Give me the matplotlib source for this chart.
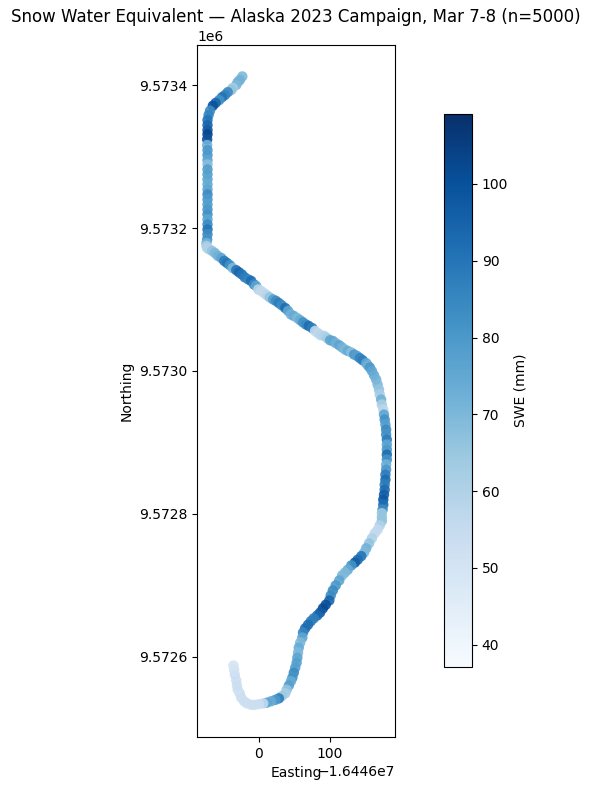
import matplotlib
matplotlib.use("Agg")
from matplotlib import pyplot as plt
from matplotlib.cm import ScalarMappable
from matplotlib.colors import Normalize
import numpy as np

EASTING_BASE = -16446000
NORTHING_BASE = 9572000
W, H = 592, 789

# north end of the track to south end
easting = [-23.5, -27, -30, -32, -37, -39, -44, -48, -52, -56, -61, -65, -69, -71, -72.5, -72.5, -72.5, -72.5, -73, -73,
           -72.5, -72.5, -72.5, -72.5, -72.5, -72.5, -72.5, -72.5, -72.5, -72.5, -72.5, -72.5, -72.5, -72.5, -72.5, -72.5, -72.5, -72.5, -73, -74,
           -74, -73, -70, -66, -62, -58, -53, -49, -45, -41, -37, -32, -28, -24, -20, -15, -11, -7, -4, -1,
           3, 7, 11, 15, 20, 24, 28, 32, 37, 41, 45, 49, 54, 58, 62, 66, 70, 75, 79, 83,
           87, 92, 96, 100, 104, 108, 113, 117, 121, 125, 130, 134, 138, 142, 146, 151, 153, 156, 159, 162,
           165, 167, 169, 170, 172, 173, 175, 176, 177, 178, 179, 179, 180, 180, 180, 180, 180, 179, 179, 178,
           178, 177, 177, 176, 175, 175, 174, 173, 173, 173, 170, 167, 163, 159, 155, 151, 148, 144, 139, 135,
           130, 125, 121, 117, 113, 108, 104, 101, 99, 94, 90, 86, 82, 77, 73, 69, 65, 62, 61, 58,
           56, 55, 54, 53, 51, 49, 47, 45, 42, 39, 37, 32, 28, 23, 17, 11, 6, 0, -6, -11,
           -17, -21, -25, -27, -30, -31, -32, -34, -35, -36]
northing = [1412, 1407, 1404, 1400, 1396, 1393, 1390, 1386, 1383, 1379, 1375, 1371, 1364, 1358, 1351, 1344, 1337, 1331, 1324, 1316,
            1309, 1302, 1295, 1289, 1282, 1275, 1268, 1261, 1254, 1247, 1240, 1233, 1226, 1219, 1212, 1205, 1198, 1191, 1184, 1179,
            1175, 1172, 1170, 1168, 1165, 1161, 1158, 1154, 1151, 1148, 1144, 1141, 1138, 1135, 1131, 1128, 1126, 1121, 1119, 1114,
            1112, 1109, 1106, 1103, 1100, 1098, 1095, 1092, 1088, 1084, 1079, 1077, 1074, 1071, 1068, 1065, 1063, 1060, 1056, 1053,
            1050, 1049, 1046, 1043, 1042, 1039, 1036, 1033, 1030, 1028, 1026, 1023, 1021, 1018, 1015, 1011, 1008, 1005, 1000, 994,
            988, 981, 974, 967, 960, 953, 946, 939, 932, 925, 918, 911, 904, 897, 890, 883, 876, 869, 862, 855,
            848, 841, 834, 827, 820, 813, 806, 801, 795, 790, 784, 778, 773, 766, 759, 752, 746, 741, 736, 732,
            728, 722, 718, 714, 707, 700, 693, 686, 679, 673, 668, 662, 658, 654, 650, 645, 640, 634, 627, 620,
            613, 606, 599, 592, 585, 578, 571, 566, 560, 554, 549, 545, 542, 540, 538, 536, 535, 534, 533, 533,
            535, 538, 543, 549, 554, 560, 567, 575, 582, 588]
swe = [70, 72, 72, 70, 62, 66, 84, 86, 90, 82, 94, 100, 84, 86, 90, 94, 97, 104, 100, 72,
       80, 80, 76, 68, 78, 78, 76, 74, 76, 84, 80, 78, 80, 82, 76, 84, 90, 84, 82, 72,
       62, 60, 60, 66, 70, 72, 76, 88, 90, 82, 70, 90, 94, 90, 88, 86, 92, 84, 76, 58,
       56, 56, 58, 66, 78, 84, 88, 84, 92, 76, 72, 74, 70, 74, 82, 84, 92, 88, 56, 57,
       58, 60, 62, 76, 76, 72, 76, 72, 70, 74, 68, 80, 78, 86, 88, 76, 72, 80, 76, 74,
       72, 70, 66, 62, 72, 62, 58, 76, 82, 78, 84, 82, 88, 76, 80, 92, 82, 72, 80, 88,
       92, 88, 92, 96, 98, 92, 84, 64, 66, 66, 60, 56, 56, 60, 66, 72, 70, 90, 92, 96,
       82, 74, 70, 70, 76, 80, 84, 84, 94, 100, 102, 98, 94, 88, 88, 92, 92, 86, 76, 70,
       74, 70, 76, 78, 78, 84, 82, 74, 78, 66, 62, 64, 88, 80, 74, 76, 56, 53, 53, 53,
       53, 53, 53, 53, 52, 53, 53, 53, 52, 50]

SWE_MIN = 37.1
SWE_MAX = 109.1

fig = plt.figure(figsize=(W / 100, H / 100), dpi=100)
ax = fig.add_axes([197 / W, 1 - 737 / H, 198 / W, 692 / H])
x = np.array(easting) + EASTING_BASE
y = np.array(northing) + NORTHING_BASE
norm = Normalize(SWE_MIN, SWE_MAX)
ax.scatter(x, y, c=swe, cmap="Blues", norm=norm, s=56, alpha=0.9, linewidths=0)
ax.set_xlim(EASTING_BASE - 87.3, EASTING_BASE + 191.5)
ax.set_ylim(NORTHING_BASE + 488, NORTHING_BASE + 1456)
ax.set_xticks([EASTING_BASE, EASTING_BASE + 100])
ax.set_yticks([9572600, 9572800, 9573000, 9573200, 9573400])
ax.set_xlabel("Easting")
ax.set_ylabel("Northing")
ax.set_title("Snow Water Equivalent — Alaska 2023 Campaign, Mar 7-8 (n=5000)", fontsize=12)

cax = fig.add_axes([444 / W, 1 - 667 / H, 28 / W, 553 / H])
cb = fig.colorbar(ScalarMappable(norm=norm, cmap="Blues"), cax=cax)
cb.set_label("SWE (mm)")

fig.savefig("out.png", dpi=100)
